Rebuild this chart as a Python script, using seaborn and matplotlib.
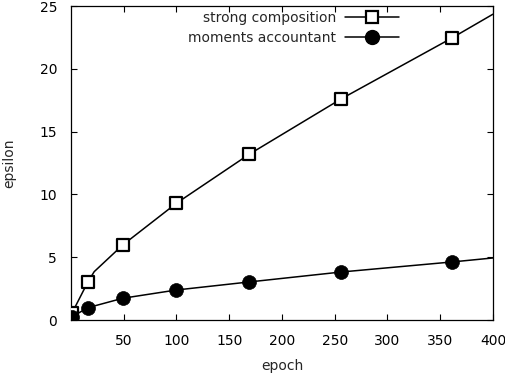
import matplotlib

matplotlib.use("Agg")
import matplotlib.pyplot as plt
import pandas as pd
import seaborn as sns
from matplotlib.lines import Line2D

# values
line_epochs_strong = [1, 16, 22, 49, 100, 169, 256, 361, 400]
line_eps_strong = [0.56, 3.03, 3.85, 5.97, 9.3, 13.2, 17.6, 22.45, 24.35]
line_epochs_moments = [1, 16, 49, 100, 169, 256, 361, 400]
line_eps_moments = [0.26, 0.98, 1.73, 2.39, 3.03, 3.82, 4.62, 4.94]

marker_epochs = [1, 16, 49, 100, 169, 256, 361]
marker_eps_strong = [0.56, 3.03, 5.97, 9.3, 13.2, 17.6, 22.45]
marker_eps_moments = [0.26, 0.98, 1.73, 2.39, 3.03, 3.82, 4.62]

x_ticks = [50, 100, 150, 200, 250, 300, 350, 400]
y_ticks = [0, 5, 10, 15, 20, 25]

sns.set_theme(style="white")
plt.rcParams["font.family"] = ["DejaVu Sans"]
FS = 10

strong_df = pd.DataFrame({"epoch": line_epochs_strong, "epsilon": line_eps_strong})
moments_df = pd.DataFrame({"epoch": line_epochs_moments, "epsilon": line_eps_moments})
marks_df = pd.DataFrame({
    "epoch": marker_epochs,
    "strong": marker_eps_strong,
    "moments": marker_eps_moments,
})

fig = plt.figure(figsize=(5.06, 3.78), dpi=100)
ax = fig.add_axes([71 / 506, 58 / 378, 422 / 506, 314 / 378])

sns.lineplot(data=strong_df, x="epoch", y="epsilon", ax=ax, color="black", lw=1.1)
sns.lineplot(data=moments_df, x="epoch", y="epsilon", ax=ax, color="black", lw=1.1)
sns.scatterplot(data=marks_df, x="epoch", y="strong", ax=ax, marker="s", s=80,
                facecolor="white", edgecolor="black", linewidth=1.6, zorder=3)
sns.scatterplot(data=marks_df, x="epoch", y="moments", ax=ax, marker="o", s=100,
                color="black", edgecolor="black", linewidth=0.5, zorder=3)

ax.set_xlim(0, 400)
ax.set_ylim(0, 25)
ax.set_xticks(x_ticks)
ax.set_yticks(y_ticks)
ax.set_xlabel("epoch", fontsize=FS, labelpad=8)
ax.set_ylabel("epsilon", fontsize=FS, labelpad=17)
ax.tick_params(direction="in", length=4.5, width=0.8, top=True, right=True,
               bottom=True, left=True, labelsize=FS, pad=10, colors="black")
for sp in ax.spines.values():
    sp.set_visible(True)
    sp.set_color("black")
    sp.set_linewidth(0.9)

handles = [
    Line2D([], [], color="black", lw=1.1, marker="s", ms=9, mfc="white", mew=1.6),
    Line2D([], [], color="black", lw=1.1, marker="o", ms=10),
]
ax.legend(handles, ["strong composition", "moments accountant"], loc="upper right",
          bbox_to_anchor=(328 / 422, 1 - 5 / 314), frameon=False, markerfirst=False,
          handlelength=3.9, handletextpad=0.6, labelspacing=0.45, borderpad=0,
          borderaxespad=0, fontsize=FS)

fig.savefig("out.png", dpi=100)
